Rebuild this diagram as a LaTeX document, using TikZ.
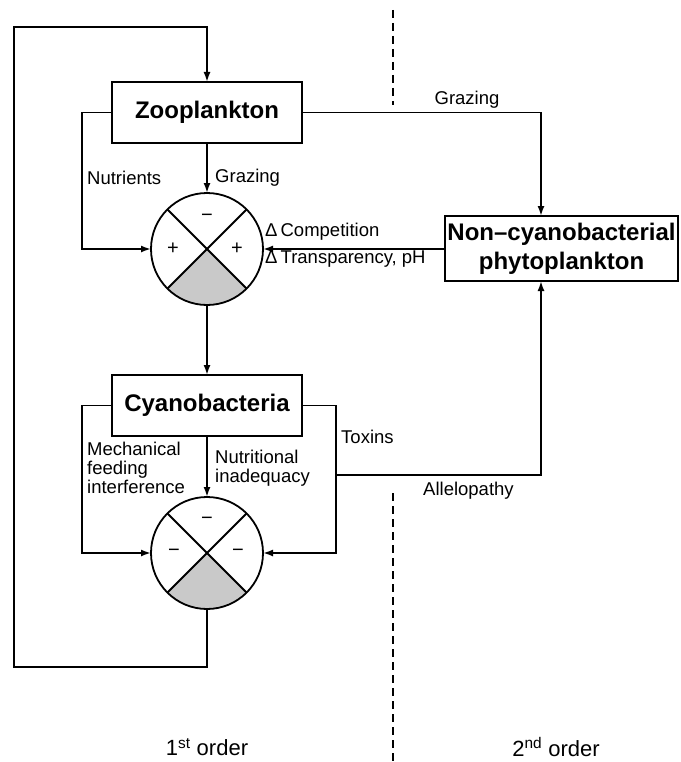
\documentclass[tikz,border=0pt]{standalone}
\usepackage{fontspec}
\setmainfont{Liberation Sans}
\usetikzlibrary{arrows.meta}
\begin{document}
\begin{tikzpicture}[x=1pt,y=1pt,
  ln/.style={line width=1.8pt},
  arr/.style={line width=1.8pt, -{Latex[length=10pt,width=7pt]}},
  box/.style={draw, line width=1.8pt, rectangle, inner sep=0pt, outer sep=0pt,
    font=\bfseries\fontsize{24}{29}\selectfont},
  lbl/.style={inner sep=0pt, font=\fontsize{18.5}{19}\selectfont},
  big/.style={inner sep=0pt, font=\fontsize{22}{24}\selectfont},
  sgn/.style={inner sep=0pt, font=\fontsize{20}{20}\selectfont},
  ring/.style={circle, minimum size=112pt, inner sep=0pt, outer sep=0pt},
  wedge/.style={fill=gray!42},
  divline/.style={line width=1.5pt, dash pattern=on 8pt off 5pt}]
\useasboundingbox (0,0) rectangle (680,-762);

% boxes
\node[box, minimum width=190pt, minimum height=61pt] (zoo) at (207,-112.5) {Zooplankton};
\node[box, minimum width=190pt, minimum height=61pt] (cya) at (207,-405.5) {Cyanobacteria};
\node[box, minimum width=233pt, minimum height=65pt, align=center] (non) at (561.5,-248.5) {Non–cyanobacterial\\phytoplankton};

% circles
\node[ring] (c1) at (207,-249) {};
\node[ring] (c2) at (207,-553) {};
\foreach \c in {c1,c2}{
  \fill[wedge] (\c.center) -- (\c.-45) arc[start angle=-45, end angle=-135, radius=56pt] -- cycle;
  \draw[ln] (\c.center) circle[radius=56pt];
  \draw[ln] (\c.45) -- (\c.-135);
  \draw[ln] (\c.135) -- (\c.-45);
}
\node[sgn] (s1t) at ([yshift=31pt]c1.center) {−};
\node[sgn] (s1l) at ([xshift=-34pt]c1.center) {+};
\node[sgn] (s1r) at ([xshift=30pt]c1.center) {+};
\node[sgn] (s2t) at ([yshift=32pt]c2.center) {−};
\node[sgn] (s2l) at ([xshift=-33pt]c2.center) {−};
\node[sgn] (s2r) at ([xshift=31pt]c2.center) {−};

% helper coordinates
\coordinate (mx) at (82,0);
\coordinate (gx) at (541,0);
\coordinate (tx) at (336,-475);
\coordinate (lb) at (14,-667);
\coordinate (lt) at (14,-27);

% connectors
\draw[arr] (c2.south) |- (lb) -- (lt) -| (zoo.north);
\draw[arr] (zoo.west) -| (mx |- c1.west) -- (c1.west);
\draw[arr] (zoo.south) -- (c1.north);
\draw[arr] (zoo.east) -| (gx |- non.north);
\draw[arr] (non.west |- c1.east) -- (c1.east);
\draw[arr] (c1.south) -- (cya.north);
\draw[arr] (cya.west) -| (mx |- c2.west) -- (c2.west);
\draw[arr] (cya.south) -- (c2.north);
\draw[arr] (cya.east) -| (tx) |- (c2.east);
\draw[arr] (tx) -| (gx |- non.south);

% divider
\coordinate (d1) at (393,-10);
\coordinate (d2) at (393,-105);
\coordinate (d3) at (393,-493);
\coordinate (d4) at (393,-762);
\draw[divline] (d1) -- (d2);
\draw[divline] (d3) -- (d4);

% labels
\node[lbl, anchor=west] (lnut) at (87,-178) {Nutrients};
\node[lbl, anchor=west] (lgr1) at (215,-178) {Grazing};
\node[lbl] (lgr2) at (467,-100) {Grazing};
\node[lbl, anchor=west] (lcomp) at (265,-232) {Δ\,Competition};
\node[lbl, anchor=west] (ltra) at (265,-259) {Δ\,Transparency, pH};
\node[lbl, anchor=west] (ltox) at (341,-437) {Toxins};
\node[lbl, anchor=west] (lall) at (423,-491) {Allelopathy};
\node[lbl, anchor=north west, align=left] (lmech) at (87,-442) {Mechanical\\feeding\\interference};
\node[lbl, anchor=north west, align=left] (lnutr) at (215,-450) {Nutritional\\inadequacy};
\node[big] (o1) at (207,-747) {1\textsuperscript{st} order};
\node[big] (o2) at (556,-747) {2\textsuperscript{nd} order};
\end{tikzpicture}
\end{document}
